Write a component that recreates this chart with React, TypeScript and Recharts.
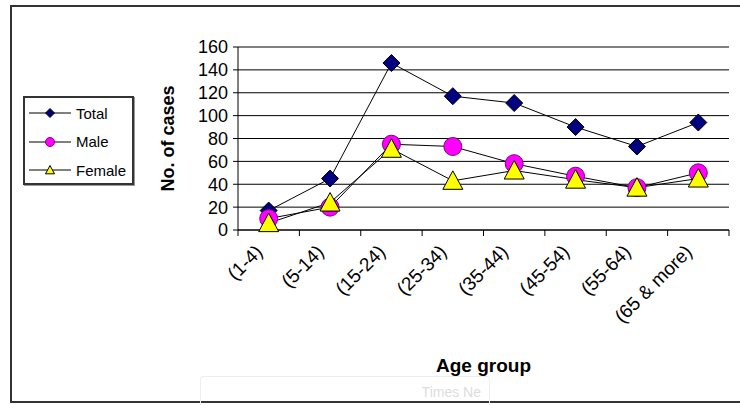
import React from 'react';
import { LineChart, Line, XAxis, YAxis, CartesianGrid, Label } from 'recharts';

// chart data
const ageGroups = ['(1-4)', '(5-14)', '(15-24)', '(25-34)', '(35-44)', '(45-54)', '(55-64)', '(65 & more)'];
const totalCases = [17, 45, 146, 117, 111, 90, 73, 94];
const maleCases = [10, 20, 75, 73, 58, 47, 37, 50];
const femaleCases = [6, 24, 71, 43, 52, 44, 37, 45];
const seriesNames = ['Total', 'Male', 'Female'];
const yTicks = [0, 20, 40, 60, 80, 100, 120, 140, 160];

const data = ageGroups.map((age, i) => ({
  age,
  Total: totalCases[i],
  Male: maleCases[i],
  Female: femaleCases[i],
}));

const W = 740;
const H = 405;
const MARGIN = { top: 47, right: 11, bottom: 30, left: 98 };
const Y_AXIS_W = 140;
const X_AXIS_H = 145;
const PLOT_W = W - MARGIN.left - Y_AXIS_W - MARGIN.right;
const BAND = PLOT_W / ageGroups.length;
const FONT = '"Liberation Sans", Arial, sans-serif';

const styles: Record<string, { fill: string; shape: 'diamond' | 'circle' | 'triangle' }> = {
  Total: { fill: '#000080', shape: 'diamond' },
  Male: { fill: '#FF00FF', shape: 'circle' },
  Female: { fill: '#FFFF00', shape: 'triangle' },
};

const Marker = ({ cx, cy, shape, fill, size }: { cx: number; cy: number; shape: string; fill: string; size: number }) => {
  if (cx == null || cy == null) return null;
  if (shape === 'diamond') {
    return (
      <polygon
        points={`${cx},${cy - size} ${cx + size},${cy} ${cx},${cy + size} ${cx - size},${cy}`}
        fill={fill}
        stroke="#000"
        strokeWidth={1}
      />
    );
  }
  if (shape === 'circle') {
    return <circle cx={cx} cy={cy} r={size} fill={fill} stroke="#800080" strokeWidth={1} />;
  }
  return (
    <polygon
      points={`${cx},${cy - size} ${cx + size},${cy + size * 0.85} ${cx - size},${cy + size * 0.85}`}
      fill={fill}
      stroke="#000"
      strokeWidth={1}
    />
  );
};

const markerSize: Record<string, number> = { diamond: 8.5, circle: 9, triangle: 10 };

const AgeTick = (props: any) => {
  const { x, y, payload, index } = props;
  const px = x - 5;
  const py = y + 23;
  return (
    <g>
      <line x1={x - BAND / 2} y1={y} x2={x - BAND / 2} y2={y + 6} stroke="#000" />
      {index === ageGroups.length - 1 && (
        <line x1={x + BAND / 2} y1={y} x2={x + BAND / 2} y2={y + 6} stroke="#000" />
      )}
      <text
        x={px}
        y={py}
        textAnchor="end"
        fontSize={19}
        fontFamily={FONT}
        fill="#000"
        transform={`rotate(-45 ${px} ${py})`}
      >
        {payload.value}
      </text>
    </g>
  );
};

const LegendBox = () => (
  <div
    style={{
      position: 'absolute',
      left: 23,
      top: 96,
      width: 111,
      height: 89,
      border: '2px solid #333',
      boxShadow: '1px 1px 0 #999',
      background: '#fff',
      fontFamily: FONT,
      fontSize: 15,
      paddingTop: 1,
      boxSizing: 'border-box',
    }}
  >
    {seriesNames.map((name) => {
      const st = styles[name];
      return (
        <div key={name} style={{ display: 'flex', alignItems: 'center', height: 28.5 }}>
          <svg width={48} height={16} style={{ marginLeft: 3 }}>
            <line x1={1} y1={8} x2={43} y2={8} stroke="#000" strokeWidth={1} />
            <Marker cx={22} cy={8} shape={st.shape} fill={st.fill} size={4.5} />
          </svg>
          <span style={{ color: '#000' }}>{name}</span>
        </div>
      );
    })}
  </div>
);

const App: React.FC = () => {
  return (
    <div style={{ position: 'absolute', left: 0, top: 0, width: W, height: H, overflow: 'hidden', background: '#fff' }}>
      <div
        style={{
          position: 'absolute',
          left: 10,
          top: 5,
          width: W,
          height: 398,
          borderLeft: '2px solid #333',
          borderTop: '2px solid #333',
          borderBottom: '2px solid #333',
          boxSizing: 'border-box',
        }}
      />
      <div
        style={{
          position: 'absolute',
          left: 200,
          top: 376,
          width: 290,
          height: 32,
          border: '1px solid #eee',
          borderRadius: 3,
          fontFamily: FONT,
          fontSize: 14,
          color: '#ddd',
          display: 'flex',
          alignItems: 'center',
          justifyContent: 'flex-end',
          paddingRight: 8,
          boxSizing: 'border-box',
        }}
      >
        Times Ne
      </div>
      <div style={{ position: 'absolute', left: 0, top: 0 }}>
        <LineChart width={W} height={H} data={data} margin={MARGIN}>
          <CartesianGrid vertical={false} stroke="#000" strokeWidth={1} />
          <XAxis
            dataKey="age"
            height={X_AXIS_H}
            interval={0}
            padding={{ left: BAND / 2, right: BAND / 2 }}
            tickSize={0}
            tickMargin={0}
            tickLine={false}
            axisLine={{ stroke: '#000' }}
            tick={<AgeTick />}
          >
            <Label
              value="Age group"
              position="insideBottom"
              offset={3}
              style={{ fontFamily: FONT, fontSize: 19, fontWeight: 'bold', fill: '#000' }}
            />
          </XAxis>
          <YAxis
            width={Y_AXIS_W}
            domain={[0, 160]}
            ticks={yTicks}
            interval={0}
            tickSize={5}
            tickMargin={5}
            axisLine={{ stroke: '#000' }}
            tickLine={{ stroke: '#000' }}
            tick={{ fill: '#000', fontSize: 18, fontFamily: FONT }}
          >
            <Label
              value="No. of cases"
              position="center"
              angle={-90}
              style={{ fontFamily: FONT, fontSize: 18, fontWeight: 'bold', fill: '#000', textAnchor: 'middle' }}
            />
          </YAxis>
          {seriesNames.map((name) => {
            const st = styles[name];
            return (
              <Line
                key={name}
                dataKey={name}
                stroke="#000"
                strokeWidth={1}
                isAnimationActive={false}
                dot={(p: any) => (
                  <Marker key={`${name}-${p.index}`} cx={p.cx} cy={p.cy} shape={st.shape} fill={st.fill} size={markerSize[st.shape]} />
                )}
                activeDot={false}
              />
            );
          })}
        </LineChart>
      </div>
      <LegendBox />
    </div>
  );
};

export default App;
